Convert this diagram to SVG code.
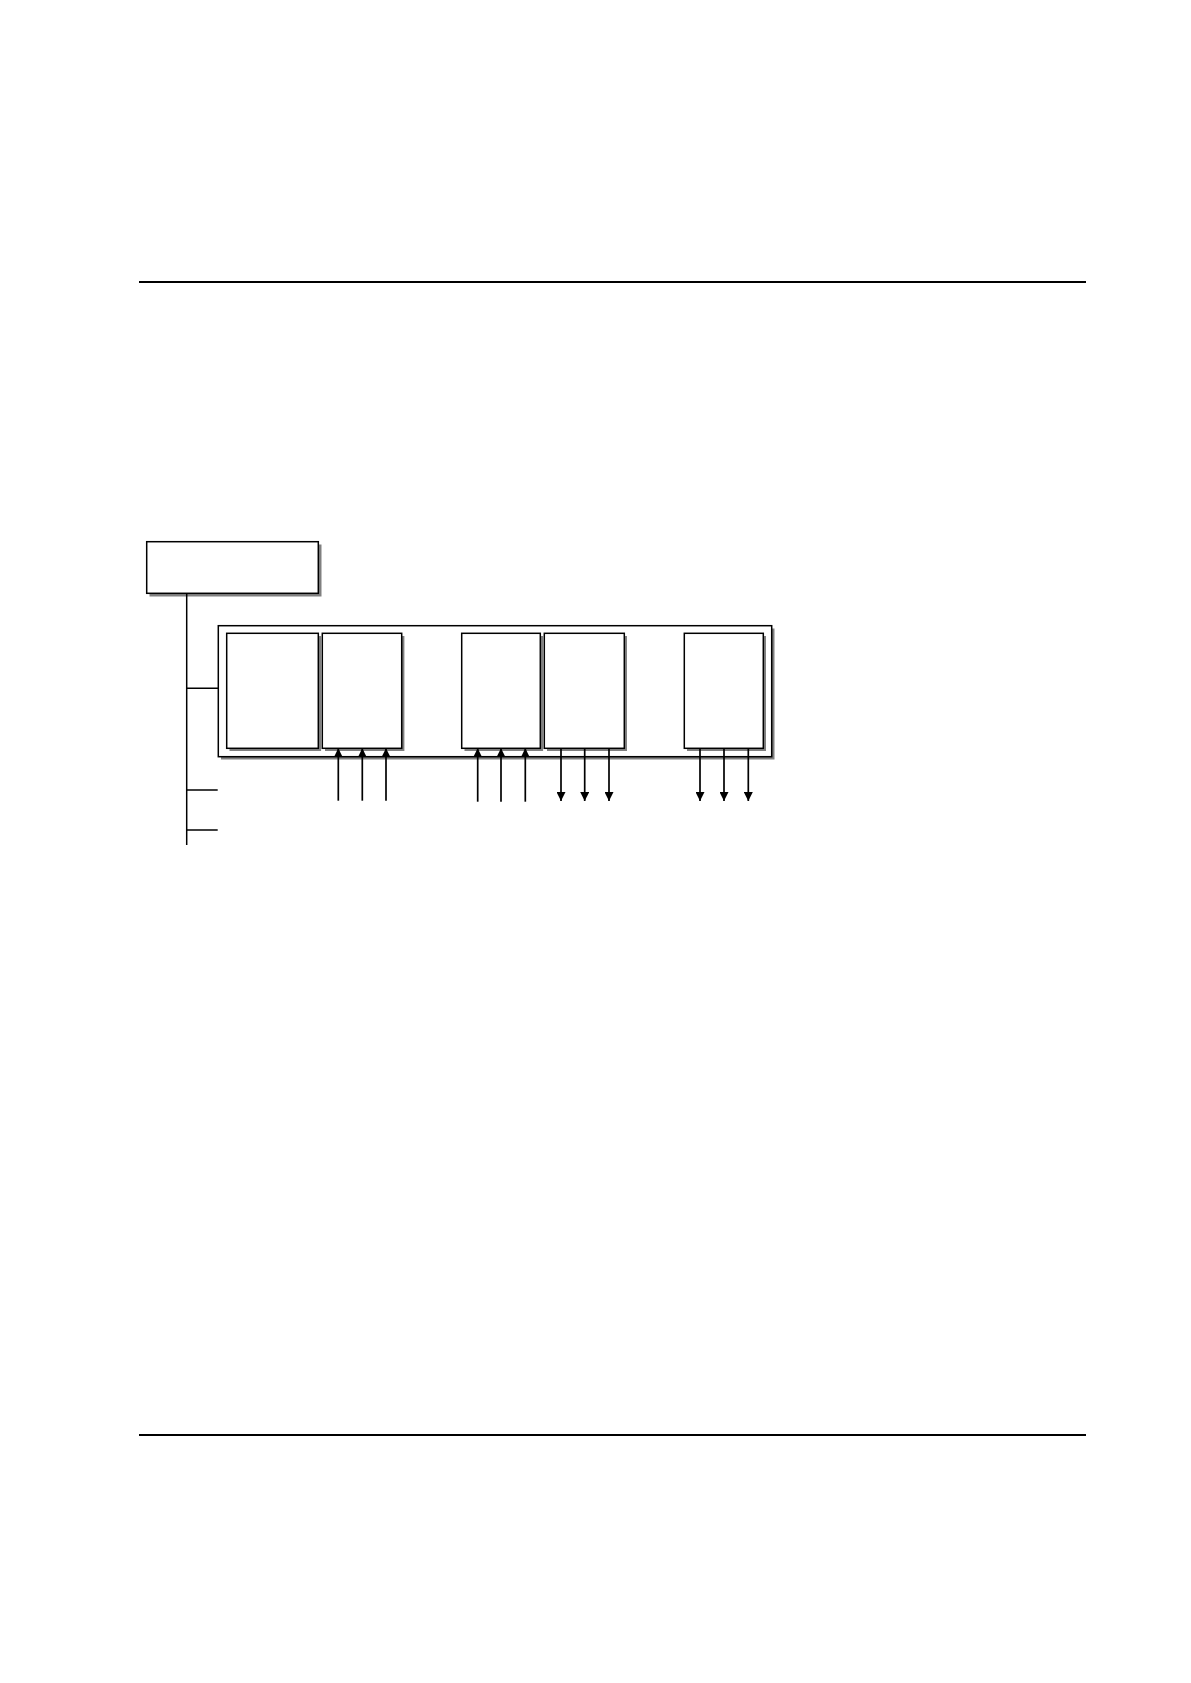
<svg xmlns="http://www.w3.org/2000/svg" width="1191" height="1683" viewBox="0 0 1191 1683">
<defs>
<style>
.box{fill:#fff;stroke:#000;stroke-width:1.5}
.sh{fill:#808080}
.ln{stroke:#000;stroke-width:1.5;fill:none}
.ar{stroke:#000;stroke-width:1.7;fill:none}
.rule{stroke:#000;stroke-width:1.8}
</style>
<marker id="ah" viewBox="0 0 10 10" refX="10" refY="5" markerWidth="9" markerHeight="9" markerUnits="userSpaceOnUse" orient="auto">
<path d="M0,0 L10,5 L0,10 z" fill="#000"/>
</marker>
</defs>
<rect width="1191" height="1683" fill="#fff"/>
<line class="rule" x1="139" y1="282" x2="1086" y2="282"/>
<line class="rule" x1="139" y1="1435" x2="1086" y2="1435"/>
<g id="top">
<rect class="sh" x="149.5" y="544.5" width="172" height="52"/>
<rect class="box" x="146.7" y="541.7" width="171.6" height="51.6"/>
</g>
<g id="container">
<rect class="sh" x="221" y="628.5" width="553.5" height="131"/>
<rect class="box" x="218.3" y="625.7" width="553.4" height="131"/>
</g>
<g id="m1">
<rect class="sh" x="229.5" y="636" width="91.6" height="115"/>
<rect class="box" x="226.7" y="633.3" width="91.6" height="115"/>
</g>
<g id="m2">
<rect class="sh" x="325" y="636" width="79.4" height="115"/>
<rect class="box" x="322.3" y="633.3" width="79.4" height="115"/>
</g>
<g id="m3">
<rect class="sh" x="464.5" y="636" width="78.6" height="115"/>
<rect class="box" x="461.7" y="633.3" width="78.6" height="115"/>
</g>
<g id="m4">
<rect class="sh" x="547" y="636" width="80" height="115"/>
<rect class="box" x="544.3" y="633.3" width="80" height="115"/>
</g>
<g id="m5">
<rect class="sh" x="687" y="636" width="79" height="115"/>
<rect class="box" x="684.3" y="633.3" width="79" height="115"/>
</g>
<g id="connectors">
<line class="ln" x1="186.7" y1="593.3" x2="186.7" y2="845"/>
<line class="ln" x1="186.7" y1="688.3" x2="218.3" y2="688.3"/>
<line class="ln" x1="186.7" y1="790" x2="217.7" y2="790"/>
<line class="ln" x1="186.7" y1="830" x2="217.7" y2="830"/>
<line class="ar" x1="338.3" y1="800.7" x2="338.3" y2="748.3" marker-end="url(#ah)"/>
<line class="ar" x1="362.3" y1="800.7" x2="362.3" y2="748.3" marker-end="url(#ah)"/>
<line class="ar" x1="386" y1="800.7" x2="386" y2="748.3" marker-end="url(#ah)"/>
<line class="ar" x1="477.7" y1="801.7" x2="477.7" y2="748.3" marker-end="url(#ah)"/>
<line class="ar" x1="501" y1="801.7" x2="501" y2="748.3" marker-end="url(#ah)"/>
<line class="ar" x1="525.3" y1="801.7" x2="525.3" y2="748.3" marker-end="url(#ah)"/>
<line class="ar" x1="561" y1="748.3" x2="561" y2="801" marker-end="url(#ah)"/>
<line class="ar" x1="584.7" y1="748.3" x2="584.7" y2="801" marker-end="url(#ah)"/>
<line class="ar" x1="609" y1="748.3" x2="609" y2="801" marker-end="url(#ah)"/>
<line class="ar" x1="700" y1="748.3" x2="700" y2="801" marker-end="url(#ah)"/>
<line class="ar" x1="724" y1="748.3" x2="724" y2="801" marker-end="url(#ah)"/>
<line class="ar" x1="748.3" y1="748.3" x2="748.3" y2="801" marker-end="url(#ah)"/>
</g>
</svg>
